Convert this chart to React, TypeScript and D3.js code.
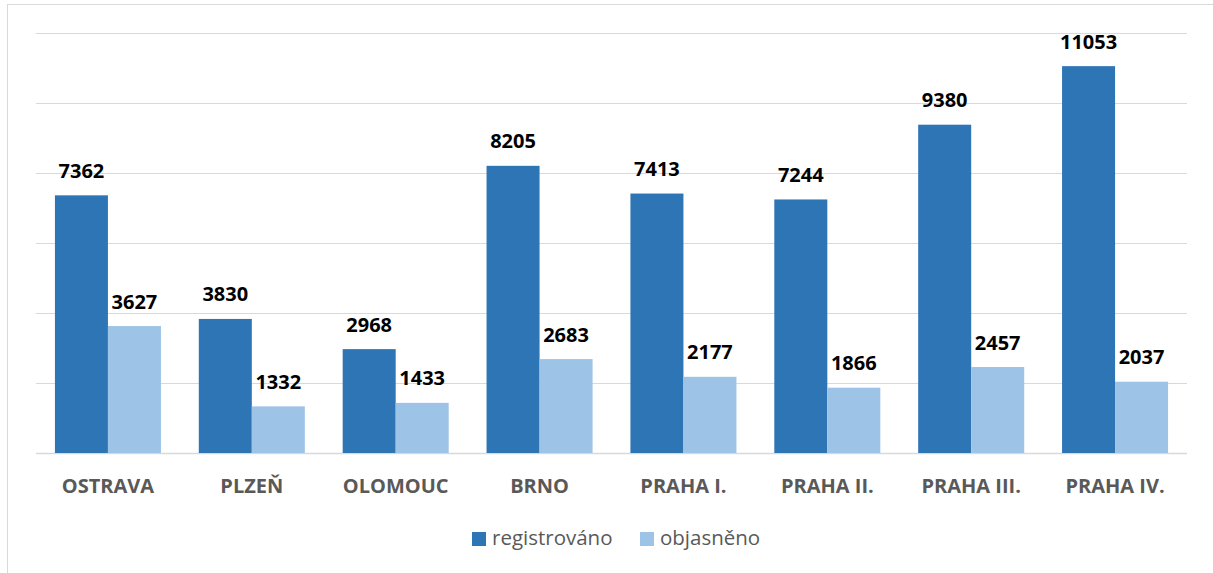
import React from "react";
import * as d3 from "d3";

const categories = ["OSTRAVA", "PLZEŇ", "OLOMOUC", "BRNO", "PRAHA I.", "PRAHA II.", "PRAHA III.", "PRAHA IV."];
const registrovano = [7362, 3830, 2968, 8205, 7413, 7244, 9380, 11053];
const objasneno = [3627, 1332, 1433, 2683, 2177, 1866, 2457, 2037];
const seriesNames = ["registrováno", "objasněno"];
const seriesColors = ["#2E75B6", "#9DC3E6"];
const yTicks = [0, 2000, 4000, 6000, 8000, 10000, 12000];

const W = 1213;
const H = 573;
const left = 36;
const right = 1187;
const top = 33;
const bottom = 453;

export default function App() {
  const x = d3.scaleBand<string>().domain(categories).range([left, right]).paddingInner(0).paddingOuter(0);
  const inner = d3.scaleBand<string>().domain(seriesNames).range([0, x.bandwidth()]).paddingOuter(0.357).paddingInner(0);
  const y = d3.scaleLinear().domain([0, 12000]).range([bottom, top]);
  const series = [registrovano, objasneno];
  const fontB = "'Open Sans', sans-serif";

  return (
    <svg width={W} height={H} style={{ position: "absolute", left: 0, top: 0, background: "#fff" }}>
      <rect x={7.5} y={4.5} width={W + 10} height={H + 10} fill="#fff" stroke="#D9D9D9" strokeWidth={1} />
      {yTicks.map((t) => (
        <line key={t} x1={left} x2={right} y1={Math.round(y(t)) + 0.5} y2={Math.round(y(t)) + 0.5} stroke="#D9D9D9" strokeWidth={t === 0 ? 1.5 : 1.2} />
      ))}
      {categories.map((c, i) => (
        <g key={c}>
          {series.map((s, j) => {
            const bx = (x(c) as number) + (inner(seriesNames[j]) as number);
            const bw = inner.bandwidth();
            return (
              <g key={j}>
                <rect x={bx} y={y(s[i])} width={bw} height={bottom - y(s[i])} fill={seriesColors[j]} />
                <text x={bx + bw / 2} y={y(s[i]) - 17.5} textAnchor="middle" fontFamily={fontB} fontWeight={700} fontSize={20} fill="#000">
                  {s[i]}
                </text>
              </g>
            );
          })}
          <text x={(x(c) as number) + x.bandwidth() / 2} y={493} textAnchor="middle" fontFamily={fontB} fontWeight={700} fontSize={20} fill="#595959">
            {c}
          </text>
        </g>
      ))}
      <g>
        <rect x={472} y={532} width={14} height={14} fill={seriesColors[0]} />
        <text x={492} y={545} fontFamily={fontB} fontSize={20.5} fill="#595959">{seriesNames[0]}</text>
        <rect x={640} y={532} width={14} height={14} fill={seriesColors[1]} />
        <text x={660} y={545} fontFamily={fontB} fontSize={20.5} fill="#595959">{seriesNames[1]}</text>
      </g>
    </svg>
  );
}
